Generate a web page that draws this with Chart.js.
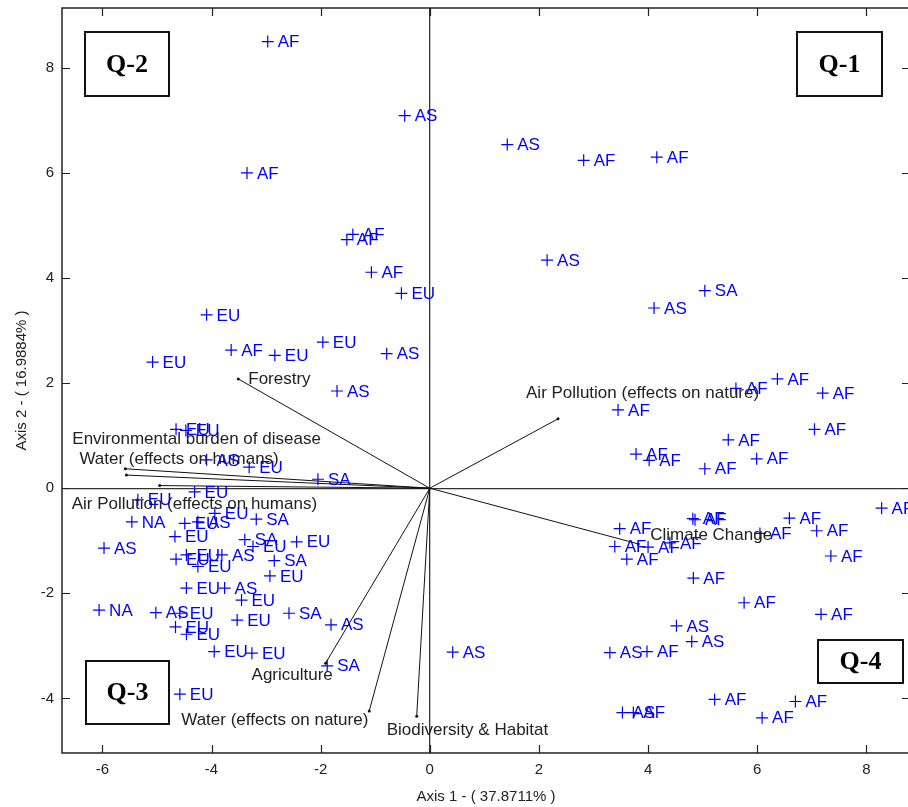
<!DOCTYPE html>
<html>
<head>
<meta charset="utf-8">
<script src="https://cdn.jsdelivr.net/npm/chart.js@4.4.1/dist/chart.umd.min.js"></script>
<style>
  html, body { margin: 0; padding: 0; background: #fff; overflow: hidden; }
  #wrap { width: 920px; height: 807px; }
</style>
</head>
<body>
<div id="wrap"><canvas id="biplot" width="920" height="807"></canvas></div>
<script>
// Country scores by region, [axis1, axis2]
const afPoints = [
  [-2.97, 8.50], [-3.35, 6.00], [-1.41, 4.83], [-1.52, 4.73], [-1.07, 4.11], [-3.64, 2.63],
  [2.82, 6.24], [4.16, 6.30], [6.37, 2.08], [5.61, 1.90], [7.20, 1.81], [3.45, 1.49],
  [7.05, 1.12], [5.47, 0.92], [3.78, 0.65], [4.02, 0.53], [5.99, 0.56], [5.04, 0.37],
  [8.28, -0.38], [4.86, -0.60], [4.82, -0.58], [3.48, -0.77], [6.59, -0.57], [6.05, -0.86],
  [7.09, -0.81], [3.39, -1.11], [4.00, -1.12], [4.40, -1.04], [3.61, -1.35], [7.35, -1.29],
  [4.83, -1.71], [5.76, -2.18], [7.17, -2.40], [3.98, -3.11], [5.22, -4.02], [6.70, -4.06],
  [6.09, -4.37], [3.73, -4.27]
];
const asPoints = [
  [-0.46, 7.09], [-0.79, 2.56], [-1.70, 1.85], [-4.09, 0.54], [-5.97, -1.14], [-4.25, -0.64],
  [-3.81, -1.27], [-3.76, -1.90], [-5.02, -2.37], [-1.81, -2.60], [0.42, -3.12],
  [1.42, 6.54], [2.15, 4.34], [4.11, 3.43], [4.52, -2.62], [4.80, -2.92], [3.30, -3.13],
  [3.53, -4.27]
];
const euPoints = [
  [-0.52, 3.71], [-4.09, 3.30], [-2.84, 2.53], [-1.96, 2.78], [-5.08, 2.40], [-4.65, 1.12],
  [-4.47, 1.10], [-3.31, 0.40], [-4.31, -0.07], [-5.35, -0.22], [-3.94, -0.48], [-4.49, -0.67],
  [-4.67, -0.92], [-3.24, -1.11], [-2.44, -1.02], [-2.93, -1.67], [-4.65, -1.35], [-4.46, -1.27],
  [-4.25, -1.49], [-4.46, -1.90], [-3.45, -2.13], [-4.58, -2.38], [-4.66, -2.64], [-4.46, -2.78],
  [-3.53, -2.51], [-3.95, -3.11], [-3.26, -3.14], [-4.58, -3.92]
];
const saPoints = [
  [-2.05, 0.17], [-3.18, -0.59], [-3.39, -0.98], [-2.85, -1.38], [-2.58, -2.38], [-1.88, -3.38],
  [5.04, 3.76]
];
const naPoints = [[-5.46, -0.64], [-6.06, -2.32]];

// Variable loadings
const vectorNames = [
  'Forestry', 'Environmental burden of disease', 'Water (effects on humans)',
  'Air Pollution (effects on humans)', 'Air Pollution (effects on nature)', 'Climate Change',
  'Agriculture', 'Water (effects on nature)', 'Biodiversity & Habitat'
];
const vectorX = [-3.51, -5.58, -5.56, -4.95, 2.35, 3.82, -1.91, -1.11, -0.24];
const vectorY = [2.08, 0.37, 0.25, 0.05, 1.32, -1.06, -3.33, -4.24, -4.34];

const xTicks = [-6, -4, -2, 0, 2, 4, 6, 8];
const yTicks = [-4, -2, 0, 2, 4, 6, 8];
const quadrantNames = ['Q-1', 'Q-2', 'Q-3', 'Q-4'];

// label offsets (px) from the end of each vector: left edge, vertical centre
const vectorLabelOffset = [
  [10, 0], [-53, -29], [-47, -16], [-88, 19], [-32, -26], [12, -9], [-74, 12], [-188, 9], [-30, 14]
];
// quadrant boxes relative to the chart area: [side-x, dx, side-y, dy, w, h]
const quadrantBoxes = {
  'Q-1': ['right', -113, 'top', 24, 85, 64],
  'Q-2': ['left', 23, 'top', 24, 84, 64],
  'Q-3': ['left', 24, 'bottom', -92, 83, 63],
  'Q-4': ['right', -92, 'bottom', -113, 85, 43]
};

const labelFont = '17px "Liberation Sans", Arial, sans-serif';
const blue = '#0000ff';

const toXY = arr => arr.map(p => ({ x: p[0], y: p[1] }));

const regionSets = [
  ['AF', afPoints], ['AS', asPoints], ['EU', euPoints], ['SA', saPoints], ['NA', naPoints]
].map(([name, pts]) => ({
  label: name,
  data: toXY(pts),
  pointStyle: 'cross',
  pointRadius: 6,
  pointBorderWidth: 1.2,
  borderColor: blue,
  backgroundColor: blue,
  isRegion: true
}));

const vectorSets = vectorNames.map((name, i) => ({
  label: name,
  data: [{ x: 0, y: 0 }, { x: vectorX[i], y: vectorY[i] }],
  showLine: true,
  borderColor: '#111',
  borderWidth: 1,
  pointRadius: [0, 1.5],
  pointBackgroundColor: '#111',
  pointBorderWidth: 0,
  isVector: true,
  labelIndex: i
}));

// Draws point/vector labels, inward ticks, the frame and quadrant boxes
const biplotDecor = {
  id: 'biplotDecor',
  afterDatasetsDraw(chart) {
    const ctx = chart.ctx;
    ctx.save();
    ctx.font = labelFont;
    ctx.textBaseline = 'middle';
    ctx.textAlign = 'left';
    chart.data.datasets.forEach((ds, di) => {
      const meta = chart.getDatasetMeta(di);
      if (ds.isRegion) {
        ctx.fillStyle = blue;
        meta.data.forEach(el => ctx.fillText(ds.label, el.x + 10, el.y + 1));
      } else if (ds.isVector) {
        const end = meta.data[1];
        const off = vectorLabelOffset[ds.labelIndex];
        ctx.fillStyle = '#222';
        ctx.fillText(ds.label, end.x + off[0], end.y + off[1]);
      }
    });
    ctx.restore();
  },
  afterDraw(chart) {
    const ctx = chart.ctx;
    const a = chart.chartArea;
    const xs = chart.scales.x, ys = chart.scales.y;
    ctx.save();
    ctx.strokeStyle = '#222';
    ctx.lineWidth = 1.2;
    ctx.beginPath();
    xTicks.forEach(v => {
      const px = Math.round(xs.getPixelForValue(v)) + 0.5;
      ctx.moveTo(px, a.bottom); ctx.lineTo(px, a.bottom - 8);
      ctx.moveTo(px, a.top); ctx.lineTo(px, a.top + 8);
    });
    yTicks.forEach(v => {
      const py = Math.round(ys.getPixelForValue(v)) + 0.5;
      ctx.moveTo(a.left, py); ctx.lineTo(a.left + 8, py);
      ctx.moveTo(a.right, py); ctx.lineTo(a.right - 8, py);
    });
    ctx.stroke();
    ctx.lineWidth = 1.5;
    ctx.strokeRect(a.left, a.top, a.right - a.left, a.bottom - a.top);

    ctx.font = 'bold 26px "Liberation Serif", "Times New Roman", serif';
    ctx.textAlign = 'center';
    ctx.textBaseline = 'middle';
    quadrantNames.forEach(q => {
      const [sx, dx, sy, dy, w, h] = quadrantBoxes[q];
      const bx = a[sx] + dx, by = a[sy] + dy;
      ctx.fillStyle = '#fff';
      ctx.fillRect(bx, by, w, h);
      ctx.strokeStyle = '#111';
      ctx.lineWidth = 2;
      ctx.strokeRect(bx, by, w, h);
      ctx.fillStyle = '#000';
      ctx.fillText(q, bx + w / 2, by + h / 2 + 1);
    });
    ctx.restore();
  }
};

const tickFont = { family: '"Liberation Sans", Arial, sans-serif', size: 15 };
const zeroGrid = {
  drawTicks: false,
  lineWidth: 1.3,
  color: c => (c.tick && c.tick.value === 0 ? '#333' : 'rgba(0,0,0,0)')
};

new Chart(document.getElementById('biplot'), {
  type: 'scatter',
  data: { datasets: [...vectorSets, ...regionSets] },
  options: {
    responsive: false,
    animation: false,
    layout: { padding: { top: 8, right: 10, left: 0, bottom: 0 } },
    plugins: { legend: { display: false }, tooltip: { enabled: false } },
    scales: {
      x: {
        type: 'linear',
        min: -6.74,
        max: 8.80,
        afterBuildTicks: s => { s.ticks = xTicks.map(v => ({ value: v })); },
        afterFit: s => { s.height = 54; s.paddingLeft = 0; s.paddingRight = 0; },
        grid: zeroGrid,
        border: { display: false },
        ticks: { color: '#222', font: tickFont, padding: 8, maxRotation: 0 },
        title: {
          display: true,
          text: 'Axis 1 - ( 37.8711% )',
          color: '#222',
          font: tickFont,
          padding: { top: 0, bottom: 1 }
        }
      },
      y: {
        type: 'linear',
        min: -5.04,
        max: 9.14,
        afterBuildTicks: s => { s.ticks = yTicks.map(v => ({ value: v })); },
        afterFit: s => { s.width = 62; s.paddingTop = 0; s.paddingBottom = 0; },
        grid: zeroGrid,
        border: { display: false },
        ticks: { color: '#222', font: tickFont, padding: 8 },
        title: {
          display: true,
          text: 'Axis 2 - ( 16.9884% )',
          color: '#222',
          font: tickFont,
          padding: { top: 13, bottom: 0 }
        }
      }
    }
  },
  plugins: [biplotDecor]
});
</script>
</body>
</html>
